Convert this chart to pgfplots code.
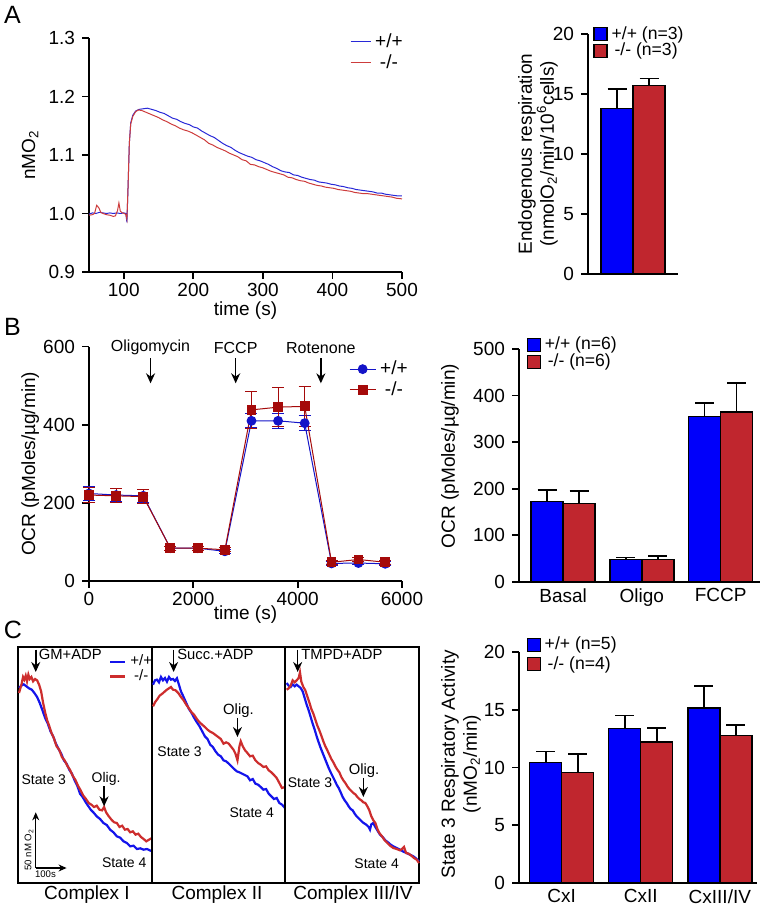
\documentclass[border=0pt]{standalone}
\usepackage{fontspec}
\setmainfont{Liberation Sans}
\usepackage{pgfplots}
\pgfplotsset{compat=1.18}
\usetikzlibrary{arrows.meta}

\definecolor{wtblue}{RGB}{0,0,250}
\definecolor{kored}{RGB}{192,38,46}
\definecolor{lineblue}{RGB}{40,40,215}
\definecolor{linered}{RGB}{205,60,60}
\definecolor{mkblue}{RGB}{20,20,200}
\definecolor{mkred}{RGB}{165,10,10}
\definecolor{trblue}{RGB}{20,20,235}
\definecolor{trred}{RGB}{205,45,45}

\tikzset{arr/.style={-{Stealth[length=5pt,width=4.5pt]}, line width=0.75pt}}

\pgfplotsset{
  panel/.style={scale only axis, axis lines=left, axis line style={-, line width=0.9pt},
    tick align=outside, major tick length=3.5pt, tick style={black, line width=0.9pt},
    tick label style={font=\fontsize{9.5}{10}\selectfont},
    x tick label style={yshift=1.2pt},
    label style={font=\fontsize{9.5}{11}\selectfont},
    /pgf/number format/assume math mode=true, /pgf/number format/1000 sep={}, clip=false},
  barpanel/.style={panel, ybar=0pt, bar width=16pt, xtick style={draw=none}, ymin=0,
    x tick label style={inner sep=1pt},
    legend style={draw=none, fill=none, inner sep=0pt, row sep=-3.6pt,
      font=\fontsize{8.8}{8.8}\selectfont, cells={anchor=west}}},
  sqlegend/.style={legend image code/.code={\draw[##1, line width=0.6pt] (0pt,-3.25pt) rectangle (6.5pt,3.25pt);}},
  wtbar/.style={fill=wtblue, draw=black, line width=0.7pt, sqlegend,
    error bars/.cd, y dir=plus, y explicit,
    error bar style={black, line width=0.8pt},
    error mark options={rotate=90, black, mark size=4.75pt, line width=0.8pt}},
  kobar/.style={fill=kored, draw=black, line width=0.7pt, sqlegend,
    error bars/.cd, y dir=plus, y explicit,
    error bar style={black, line width=0.8pt},
    error mark options={rotate=90, black, mark size=4.75pt, line width=0.8pt}},
  trace/.style={scale only axis, xtick=\empty, ytick=\empty, y dir=reverse,
    ymin=172, ymax=880, axis line style={line width=1pt}, clip=false},
}

\begin{document}
\begin{tikzpicture}
\useasboundingbox (0,0) rectangle (382.5pt,454.5pt);

% ---------------- A: oxygen trace
\begin{axis}[panel, at={(44.5pt,318.5pt)}, anchor=south west, width=156.5pt, height=117pt,
  xmin=50, xmax=500, ymin=0.9, ymax=1.3,
  xtick={100,200,300,400,500}, ytick={0.9,1.0,1.1,1.2,1.3},
  y tick label style={/pgf/number format/.cd, fixed, fixed zerofill, precision=1},
  xlabel={time (s)}, ylabel={nMO\textsubscript{2}},
  xlabel style={at={(axis description cs:0.5,-0.165)}, anchor=center},
  ylabel style={at={(axis description cs:-0.188,0.5)}, anchor=center},
  legend style={at={(axis cs:425,1.315)}, anchor=north west, draw=none, fill=none,
    inner sep=0pt, row sep=-2pt, font=\fontsize{9.5}{9.5}\selectfont},
  legend image code/.code={\draw[#1] (0pt,0pt) -- (10pt,0pt);}]
\addplot[lineblue, line width=0.5pt] coordinates {
(50,0.999) (55,1.001) (60,1.000) (65,1.002) (70,1.001) (75,1.000) (80,1.001) (85,1.000)
(90,1.001) (95,1.000) (100,1.001) (103,1.000) (104.5,0.985) (106,1.04) (108,1.12) (110,1.155)
(113,1.168) (117,1.175) (122,1.178) (128,1.179) (134,1.180) (140,1.178) (146,1.176) (152,1.173)
(158,1.171) (164,1.167) (170,1.163) (176,1.161) (182,1.157) (188,1.154) (194,1.152) (200,1.148)
(206,1.146) (212,1.141) (218,1.137) (224,1.133) (230,1.130) (236,1.125) (242,1.120) (248,1.116)
(254,1.113) (260,1.108) (266,1.104) (272,1.101) (278,1.098) (284,1.096) (290,1.092) (296,1.090)
(302,1.087) (308,1.084) (314,1.080) (320,1.077) (326,1.073) (332,1.071) (338,1.070) (344,1.066)
(350,1.065) (356,1.062) (362,1.060) (368,1.058) (374,1.057) (380,1.054) (386,1.053) (392,1.052)
(398,1.050) (404,1.049) (410,1.047) (416,1.046) (422,1.044) (428,1.043) (434,1.041) (440,1.040)
(446,1.039) (452,1.038) (458,1.037) (464,1.035) (470,1.035) (476,1.033) (482,1.032) (488,1.031)
(494,1.030) (500,1.030)};
\addlegendentry{+/+}
\addplot[linered, line width=0.5pt] coordinates {
(50,0.997) (55,0.998) (58,1.000) (61,1.014) (64,1.010) (67,1.002) (70,1.000) (75,0.998)
(80,0.997) (85,0.995) (88,0.996) (91,1.005) (93,1.018) (95,1.004) (98,1.001) (101,1.000)
(103,0.998) (104.5,0.990) (106,1.04) (108,1.12) (110,1.153) (113,1.166) (117,1.174) (121,1.177)
(126,1.176) (132,1.173) (138,1.170) (144,1.167) (150,1.164) (156,1.160) (162,1.157) (168,1.153)
(174,1.150) (180,1.146) (186,1.143) (192,1.141) (198,1.138) (204,1.134) (210,1.130) (216,1.126)
(222,1.120) (228,1.117) (234,1.113) (240,1.110) (246,1.107) (252,1.103) (258,1.100) (264,1.097)
(270,1.092) (276,1.090) (282,1.084) (288,1.083) (294,1.080) (300,1.078) (306,1.075) (312,1.072)
(318,1.070) (324,1.068) (330,1.066) (336,1.062) (342,1.061) (348,1.058) (354,1.056) (360,1.055)
(366,1.052) (372,1.050) (378,1.048) (384,1.047) (390,1.045) (396,1.044) (402,1.043) (408,1.041)
(414,1.040) (420,1.039) (426,1.038) (432,1.036) (438,1.035) (444,1.034) (450,1.034) (456,1.033)
(462,1.032) (468,1.031) (474,1.030) (480,1.029) (486,1.028) (492,1.026) (500,1.025)};
\addlegendentry{-/-}
\end{axis}

% ---------------- A: endogenous respiration bars
\begin{axis}[barpanel, at={(294pt,317.5pt)}, anchor=south west, width=45pt, height=120pt,
  xmin=-1, xmax=1, ymax=20, xtick=\empty, ytick={0,5,10,15,20},
  ylabel={Endogenous respiration\\(nmolO\textsubscript{2}/min/10\textsuperscript{6}cells)},
  ylabel style={at={(axis description cs:-0.556,0.5)}, anchor=center, align=center},
  legend style={at={(axis description cs:0.056,1.05)}, anchor=north west}]
\addplot[wtbar] coordinates {(0,13.8) +- (0,1.6)};
\addlegendentry{+/+ (n=3)}
\addplot[kobar] coordinates {(0,15.7) +- (0,0.6)};
\addlegendentry{\,-/- (n=3)}
\end{axis}

% ---------------- B: OCR time course
\begin{axis}[panel, at={(44.5pt,164pt)}, anchor=south west, width=156.5pt, height=117.2pt,
  xmin=0, xmax=6000, ymin=0, ymax=600,
  xtick={0,2000,4000,6000}, ytick={0,200,400,600},
  xlabel={time (s)}, ylabel={OCR (pMoles/µg/min)},
  xlabel style={at={(axis description cs:0.5,-0.145)}, anchor=center},
  ylabel style={at={(axis description cs:-0.188,0.5)}, anchor=center},
  legend style={at={(axis cs:4980,575)}, anchor=north west, draw=none, fill=none,
    inner sep=0pt, row sep=-2pt, font=\fontsize{9.5}{9.5}\selectfont},
  legend image code/.code={\draw[mark repeat=2, mark phase=2, #1] plot coordinates {(0pt,0pt) (6.5pt,0pt) (13pt,0pt)};}]
\addplot[mkblue, line width=0.5pt, mark=*, mark size=2.2pt,
  error bars/.cd, y dir=both, y explicit,
  error bar style={mkblue, line width=0.5pt},
  error mark options={rotate=90, mkblue, mark size=3pt, line width=0.5pt}]
  coordinates {
  (0,224) +- (0,18) (520,220) +- (0,16) (1040,218) +- (0,16)
  (1560,84) +- (0,5) (2085,84) +- (0,5) (2605,76) +- (0,5)
  (3115,410) +- (0,18) (3625,410) +- (0,20) (4135,404) +- (0,20)
  (4650,45) +- (0,5) (5165,46) +- (0,5) (5680,44) +- (0,5)};
\addlegendentry{+/+}
\addplot[mkred, line width=0.5pt, mark=square*, mark size=2.2pt,
  error bars/.cd, y dir=both, y explicit,
  error bar style={mkred, line width=0.5pt},
  error mark options={rotate=90, mkred, mark size=3pt, line width=0.5pt}]
  coordinates {
  (0,220) +- (0,20) (520,218) +- (0,18) (1040,216) +- (0,18)
  (1560,84) +- (0,5) (2085,84) +- (0,5) (2605,80) +- (0,5)
  (3115,438) +- (0,47) (3625,445) +- (0,50) (4135,447) +- (0,52)
  (4650,48) +- (0,5) (5165,55) +- (0,5) (5680,48) +- (0,5)};
\addlegendentry{-/-}
\draw[arr] (axis cs:1180,570) -- (axis cs:1180,506);
\draw[arr] (axis cs:2812,570) -- (axis cs:2812,506);
\draw[arr] (axis cs:4445,570) -- (axis cs:4445,506);
\node[font=\fontsize{8}{8}\selectfont] at (axis cs:1180,597) {Oligomycin};
\node[font=\fontsize{8}{8}\selectfont] at (axis cs:2812,597) {FCCP};
\node[font=\fontsize{8}{8}\selectfont] at (axis cs:4445,597) {Rotenone};
\end{axis}

% ---------------- B: OCR bars
\begin{axis}[barpanel, at={(259.5pt,163.65pt)}, anchor=south west, width=120.5pt, height=116.35pt,
  xmin=-0.56, xmax=2.5, ymax=500, xtick={0,1,2}, xticklabels={Basal,Oligo,FCCP},
  ytick={0,100,200,300,400,500},
  ylabel={OCR (pMoles/µg/min)},
  ylabel style={at={(axis description cs:-0.286,0.54)}, anchor=center},
  legend style={at={(axis description cs:0.03,1.07)}, anchor=north west, row sep=-3.5pt}]
\addplot[wtbar] coordinates {(0,172) +- (0,25) (1,48) +- (0,4) (2,355) +- (0,29)};
\addlegendentry{+/+ (n=6)}
\addplot[kobar] coordinates {(0,168) +- (0,27) (1,48) +- (0,7) (2,365) +- (0,62)};
\addlegendentry{\,-/- (n=6)}
\end{axis}

% ---------------- C: state 3 bars
\begin{axis}[barpanel, at={(259.5pt,13.15pt)}, anchor=south west, width=119pt, height=115.2pt,
  xmin=-0.54, xmax=2.47, ymax=20, xtick={0,1,2}, xticklabels={CxI,CxII,CxIII/IV},
  ytick={0,5,10,15,20},
  ylabel={State 3 Respiratory Activity\\(nMO\textsubscript{2}/min)},
  ylabel style={at={(axis description cs:-0.244,0.515)}, anchor=center, align=center},
  legend style={at={(axis description cs:0.03,1.085)}, anchor=north west, row sep=-2.3pt}]
\addplot[wtbar] coordinates {(0,10.45) +- (0,0.95) (1,13.4) +- (0,1.1) (2,15.15) +- (0,1.95)};
\addlegendentry{+/+ (n=5)}
\addplot[kobar] coordinates {(0,9.55) +- (0,1.6) (1,12.2) +- (0,1.25) (2,12.8) +- (0,0.9)};
\addlegendentry{\,-/- (n=4)}
\end{axis}

% ---------------- C: oxygraph traces, Complex I
\begin{axis}[trace, at={(9pt,13pt)}, anchor=south west, width=67pt, height=118pt,
  xmin=55, xmax=455,
  legend style={at={(axis cs:326,182)}, anchor=north west, draw=none, fill=none,
    inner sep=0pt, row sep=-3.5pt, font=\fontsize{7.5}{7.5}\selectfont},
  legend image code/.code={\draw[#1] (0pt,0pt) -- (7.5pt,0pt);}]
\addplot[trblue, line width=1.1pt] coordinates {
(58,295) (65,288) (72,284) (80,290) (88,296) (96,300) (104,310) (112,322) (120,340) (128,362)
(136,385) (144,402) (152,425) (160,440) (168,462) (176,478) (184,492) (192,512) (200,522)
(208,540) (216,552) (224,572) (232,588) (240,612) (248,622) (256,636) (264,648) (272,660)
(280,668) (290,680) (300,688) (310,700) (320,706) (330,720) (340,728) (350,740) (360,744)
(370,755) (380,760) (390,770) (400,768) (410,778) (420,776) (430,780) (440,778) (455,785)};
\addlegendentry{+/+}
\addplot[trred, line width=1.1pt] coordinates {
(58,310) (62,296) (66,282) (70,262) (74,270) (78,258) (82,275) (86,255) (90,268) (95,262)
(100,275) (106,268) (112,272) (118,285) (124,305) (130,340) (136,368) (142,392) (148,408)
(155,430) (162,445) (170,470) (178,480) (186,502) (194,512) (202,528) (210,540) (218,558)
(226,570) (234,588) (242,602) (250,618) (258,628) (266,640) (274,645) (282,652) (290,648)
(298,660) (306,662) (312,652) (318,668) (326,680) (334,690) (342,698) (350,700) (358,712)
(366,708) (374,720) (382,718) (390,728) (398,725) (406,735) (414,732) (422,742) (430,748)
(438,755) (446,750) (455,745)};
\addlegendentry{-/-}
\draw[arr] (axis cs:108,180) -- (axis cs:108,247);
\node[anchor=west, inner sep=0pt, font=\fontsize{7.4}{8}\selectfont] at (axis cs:116,195) {GM+ADP};
\node[font=\fontsize{7}{7}\selectfont] at (axis cs:132,570) {State 3};
\node[font=\fontsize{7}{7}\selectfont] at (axis cs:318,568) {Olig.};
\draw[arr] (axis cs:312,590) -- (axis cs:312,650);
\node[font=\fontsize{7}{7}\selectfont] at (axis cs:372,820) {State 4};
\draw[-{Stealth[length=4pt,width=3.5pt]}, line width=0.6pt] (axis cs:108,835) -- (axis cs:108,668);
\draw[-{Stealth[length=4pt,width=3.5pt]}, line width=0.6pt] (axis cs:108,835) -- (axis cs:200,835);
\node[rotate=90, font=\fontsize{4.8}{5}\selectfont] at (axis cs:88,780) {50 nM O\textsubscript{2}};
\node[font=\fontsize{4.8}{5}\selectfont] at (axis cs:137,855) {100s};
\end{axis}

% ---------------- C: Complex II
\begin{axis}[trace, at={(76pt,13pt)}, anchor=south west, width=66.5pt, height=118pt,
  xmin=455, xmax=855]
\addplot[trblue, line width=1.1pt] coordinates {
(458,285) (464,272) (470,270) (476,278) (482,262) (488,272) (494,265) (500,276) (506,262)
(512,270) (518,268) (524,274) (530,266) (536,285) (542,305) (550,322) (558,340) (566,358)
(574,370) (582,385) (590,398) (598,410) (606,425) (614,440) (622,448) (630,465) (638,472)
(646,485) (654,495) (662,500) (670,512) (678,515) (686,522) (694,530) (702,538) (710,545)
(718,548) (726,552) (734,556) (742,560) (750,572) (758,568) (766,582) (774,585) (782,592)
(790,600) (798,598) (806,612) (814,620) (822,628) (830,625) (838,640) (846,645) (855,655)};
\addplot[trred, line width=1.1pt] coordinates {
(458,350) (464,338) (470,330) (478,318) (486,312) (494,305) (500,300) (506,296) (512,292)
(518,300) (526,302) (534,310) (542,322) (550,332) (558,345) (566,356) (574,368) (582,376)
(590,388) (598,398) (606,405) (614,412) (622,420) (630,426) (638,430) (646,436) (654,442)
(662,448) (670,462) (678,458) (686,462) (692,470) (700,480) (706,492) (712,512) (718,470)
(722,455) (728,470) (735,482) (742,490) (750,500) (758,498) (766,512) (774,520) (782,525)
(790,532) (798,530) (806,542) (814,548) (822,556) (830,565) (838,580) (846,595) (855,592)};
\draw[arr] (axis cs:520,180) -- (axis cs:520,247);
\node[anchor=west, inner sep=0pt, font=\fontsize{7.4}{8}\selectfont] at (axis cs:530,195) {Succ.+ADP};
\node[font=\fontsize{7.4}{8}\selectfont] at (axis cs:715,362) {Olig.};
\draw[arr] (axis cs:712,385) -- (axis cs:712,442);
\node[font=\fontsize{7}{7}\selectfont] at (axis cs:538,485) {State 3};
\node[font=\fontsize{7}{7}\selectfont] at (axis cs:755,668) {State 4};
\end{axis}

% ---------------- C: Complex III/IV
\begin{axis}[trace, at={(142.5pt,13pt)}, anchor=south west, width=67pt, height=118pt,
  xmin=855, xmax=1257]
\addplot[trblue, line width=1.1pt] coordinates {
(860,280) (866,288) (872,292) (878,284) (884,290) (890,285) (896,290) (902,295) (908,305)
(914,325) (920,345) (926,362) (932,382) (938,402) (944,420) (950,440) (956,458) (962,475)
(968,490) (974,505) (980,520) (986,535) (992,548) (998,560) (1004,572) (1010,585) (1016,595)
(1022,608) (1028,622) (1034,632) (1040,640) (1046,650) (1052,658) (1058,662) (1064,672)
(1070,680) (1076,686) (1082,692) (1088,698) (1094,702) (1100,706) (1106,712) (1110,720)
(1114,704) (1120,700) (1126,712) (1132,722) (1140,735) (1148,742) (1156,752) (1164,758)
(1172,765) (1180,770) (1190,775) (1200,780) (1210,786) (1220,790) (1230,795) (1240,800)
(1248,806) (1257,815)};
\addplot[trred, line width=1.1pt] coordinates {
(860,300) (866,296) (872,288) (878,272) (884,278) (890,272) (896,265) (900,248) (904,276)
(910,292) (916,302) (922,320) (928,338) (934,358) (940,372) (946,390) (952,408) (958,422)
(964,438) (970,455) (976,470) (982,482) (988,495) (994,508) (1000,518) (1006,530) (1012,540)
(1018,548) (1024,562) (1030,572) (1036,580) (1042,590) (1048,598) (1054,604) (1060,610)
(1066,614) (1072,622) (1078,628) (1084,632) (1090,638) (1096,640) (1102,650) (1108,662)
(1114,680) (1120,692) (1126,700) (1132,718) (1138,730) (1146,740) (1154,752) (1162,760)
(1170,768) (1180,775) (1190,778) (1200,782) (1206,778) (1212,772) (1218,790) (1226,792)
(1234,798) (1242,805) (1250,810) (1257,820)};
\draw[arr] (axis cs:893,180) -- (axis cs:893,247);
\node[anchor=west, inner sep=0pt, font=\fontsize{7.4}{8}\selectfont] at (axis cs:903,195) {TMPD+ADP};
\node[font=\fontsize{7.4}{8}\selectfont] at (axis cs:1092,543) {Olig.};
\draw[arr] (axis cs:1090,565) -- (axis cs:1090,622);
\node[font=\fontsize{7}{7}\selectfont] at (axis cs:930,580) {State 3};
\node[font=\fontsize{7}{7}\selectfont] at (axis cs:1130,822) {State 4};
\end{axis}

% ---------------- panel letters and trace captions
\node[font=\fontsize{12.5}{13}\selectfont] at (6.25pt,447pt) {A};
\node[font=\fontsize{12.5}{13}\selectfont] at (6.25pt,291pt) {B};
\node[font=\fontsize{12.5}{13}\selectfont] at (6.5pt,139.5pt) {C};
\node[font=\fontsize{9.5}{10}\selectfont] at (43.5pt,7pt) {Complex I};
\node[font=\fontsize{9.5}{10}\selectfont] at (108.5pt,7pt) {Complex II};
\node[font=\fontsize{9.5}{10}\selectfont] at (176.5pt,7pt) {Complex III/IV};
\end{tikzpicture}
\end{document}
